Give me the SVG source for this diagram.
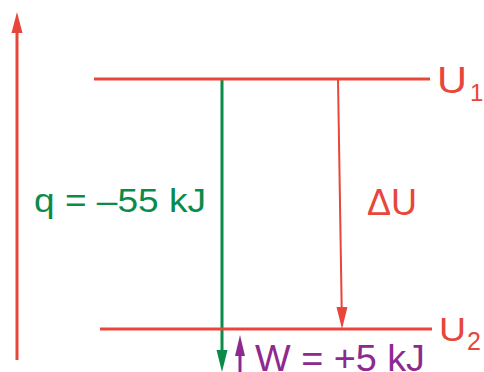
<svg xmlns="http://www.w3.org/2000/svg" width="484" height="372" viewBox="0 0 484 372">
<style>
.t{font-family:"Liberation Sans",Arial,sans-serif}
.red{stroke:#e8463a;fill:none}
.rf{fill:#e8463a}
.gf{fill:#0b8b4a}
.pf{fill:#8e2a8f}
</style>
<rect width="484" height="372" fill="#fff"/>
<g id="connectors">
<line class="red" x1="17" y1="360" x2="17" y2="30" stroke-width="3"/>
<polygon class="rf" points="17,12 11.5,33 22.5,33"/>
<line x1="222" y1="79" x2="222" y2="352" stroke="#0b8b4a" stroke-width="3"/>
<polygon class="gf" points="222,372 216.5,350 227.5,350"/>
<line class="red" x1="338" y1="79" x2="341.7" y2="309" stroke-width="2"/>
<polygon class="rf" points="342,329 336.5,307 347.5,307"/>
<line x1="240" y1="372" x2="240" y2="353" stroke="#8e2a8f" stroke-width="3"/>
<polygon class="pf" points="240,335 235,356 245,356"/>
</g>
<g id="U1">
<line class="red" x1="94" y1="79" x2="430" y2="79" stroke-width="3"/>
<text class="t rf" x="437" y="93" font-size="36" textLength="30" lengthAdjust="spacingAndGlyphs">U</text>
<text class="t rf" x="470" y="101" font-size="24">1</text>
</g>
<g id="U2">
<line class="red" x1="100" y1="329" x2="432" y2="329" stroke-width="3"/>
<text class="t rf" x="439" y="341" font-size="34" textLength="27" lengthAdjust="spacingAndGlyphs">U</text>
<text class="t rf" x="467" y="350" font-size="25">2</text>
</g>
<g id="dU">
<text class="t rf" x="367" y="215" font-size="36">ΔU</text>
</g>
<g id="q">
<text class="t gf" x="34" y="212" font-size="34" textLength="172" lengthAdjust="spacingAndGlyphs">q = –55 kJ</text>
</g>
<g id="W">
<text class="t pf" x="255" y="371" font-size="37" textLength="170" lengthAdjust="spacingAndGlyphs">W = +5 kJ</text>
</g>
</svg>
